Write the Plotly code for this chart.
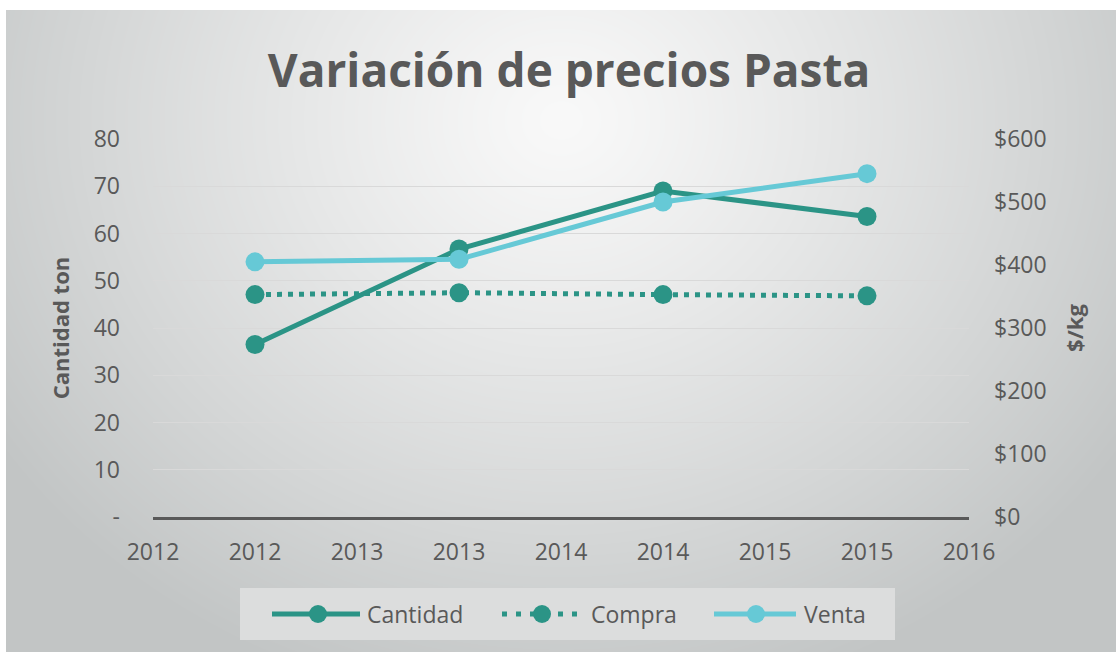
import base64
import struct
import zlib

import numpy as np
import plotly.graph_objects as go

# ---- data -------------------------------------------------------------
years = [2012, 2013, 2014, 2015]
cantidad_ton = [36.5, 56.7, 69.0, 63.6]          # left axis (ton)
compra_precio = [353, 356, 353, 351]             # right axis ($/kg)
venta_precio = [405, 409, 500, 545]              # right axis ($/kg)
x_ticks = [2012 + 0.5 * i for i in range(9)]
x_ticktext = [str(int(v)) for v in x_ticks]
y_ticks = list(range(0, 90, 10))
y_ticktext = ["-"] + [str(v) for v in y_ticks[1:]]
y2_ticks = list(range(0, 700, 100))
y2_ticktext = ["$" + str(v) for v in y2_ticks]

# ---- figure geometry (pixels) ----------------------------------------
W, H = 1116, 652
L, R, T, B = 153, 147, 139, 135
PW, PH = W - L - R, H - T - B

def px(xp):
    return (xp - L) / PW

def py(yp):
    return (H - B - yp) / PH

TEAL = "#2b9486"
CYAN = "#66c9d6"
GREY = "#595959"
FONT = "Open Sans"

# ---- radial gradient card background as inline PNG -------------------
def png_uri(arr):
    h, w, _ = arr.shape
    raw = b"".join(b"\x00" + arr[i].tobytes() for i in range(h))

    def chunk(tag, data):
        return (struct.pack(">I", len(data)) + tag + data
                + struct.pack(">I", zlib.crc32(tag + data) & 0xFFFFFFFF))

    png = (b"\x89PNG\r\n\x1a\n"
           + chunk(b"IHDR", struct.pack(">IIBBBBB", w, h, 8, 2, 0, 0, 0))
           + chunk(b"IDAT", zlib.compress(raw, 9))
           + chunk(b"IEND", b""))
    return "data:image/png;base64," + base64.b64encode(png).decode()

card_x0, card_y0 = 6, 10
cw, ch = W - card_x0, H - card_y0
gx, gy = np.meshgrid(np.arange(cw), np.arange(ch))
d = np.sqrt(((gx - 555) / 680.0) ** 2 + ((gy - 110) / 600.0) ** 2)
t = np.clip(d, 0, 1) ** 1.15
inner = np.array([249, 249, 249], dtype=float)
outer = np.array([194, 197, 197], dtype=float)
img = (inner[None, None, :] * (1 - t[..., None]) + outer[None, None, :] * t[..., None])
img = np.clip(img, 0, 255).astype(np.uint8)
bg_uri = png_uri(img)

# ---- traces -----------------------------------------------------------
xs = [y + 0.5 for y in years]   # each year's value sits mid-year

fig = go.Figure()
fig.add_trace(go.Scatter(
    x=xs, y=cantidad_ton, name="Cantidad", mode="lines+markers",
    line=dict(color=TEAL, width=5), marker=dict(color=TEAL, size=19),
    yaxis="y", showlegend=False,
))
fig.add_trace(go.Scatter(
    x=xs, y=compra_precio, name="Compra", mode="lines+markers",
    line=dict(color=TEAL, width=5, dash="5px,6px"),
    marker=dict(color=TEAL, size=19),
    yaxis="y2", showlegend=False,
))
fig.add_trace(go.Scatter(
    x=xs, y=venta_precio, name="Venta", mode="lines+markers",
    line=dict(color=CYAN, width=5), marker=dict(color=CYAN, size=19),
    yaxis="y2", showlegend=False,
))

# ---- hand-drawn legend box ------------------------------------------
shapes = [
    dict(type="rect", xref="paper", yref="paper",
         x0=px(240), x1=px(895), y0=py(640), y1=py(588),
         fillcolor="#dcdddd", line=dict(width=0), layer="below"),
]
annotations = []
legend_y = 614
legend_items = [
    ("Cantidad", TEAL, "solid", 272, 360, 318, 365),
    ("Compra", TEAL, "dots", 502, 578, 542, 589),
    ("Venta", CYAN, "solid", 714, 796, 756, 802),
]
for label, color, style, lx0, lx1, mx, tx in legend_items:
    dash = "solid" if style == "solid" else "5px,9px"
    shapes.append(dict(type="line", xref="paper", yref="paper",
                       x0=px(lx0), x1=px(lx1), y0=py(legend_y), y1=py(legend_y),
                       line=dict(color=color, width=5, dash=dash)))
    shapes.append(dict(type="circle", xref="paper", yref="paper",
                       xsizemode="pixel", ysizemode="pixel",
                       xanchor=px(mx), yanchor=py(legend_y),
                       x0=-9, x1=9, y0=-9, y1=9,
                       fillcolor=color, line=dict(width=0)))
    annotations.append(dict(text=label, xref="paper", yref="paper",
                            x=px(tx), y=py(legend_y), xanchor="left", yanchor="middle",
                            showarrow=False,
                            font=dict(family=FONT, size=23, color=GREY)))

fig.update_layout(
    width=W, height=H,
    margin=dict(l=L, r=R, t=T, b=B, autoexpand=False),
    paper_bgcolor="white",
    plot_bgcolor="rgba(0,0,0,0)",
    showlegend=False,
    title=dict(text="<b>Variación de precios Pasta</b>",
               x=569 / W, xref="container", xanchor="center",
               y=1 - 71 / H, yref="container", yanchor="middle",
               font=dict(family=FONT, size=46, color=GREY)),
    images=[dict(source=bg_uri, xref="paper", yref="paper",
                 x=px(card_x0), y=py(card_y0),
                 sizex=cw / PW, sizey=ch / PH,
                 xanchor="left", yanchor="top", sizing="stretch",
                 layer="below")],
    xaxis=dict(range=[2012, 2016], tickvals=x_ticks, ticktext=x_ticktext,
               showgrid=False, zeroline=False,
               showline=True, linecolor=GREY, linewidth=3,
               ticks="", ticklabelstandoff=12,
               tickfont=dict(family=FONT, size=23, color=GREY)),
    yaxis=dict(range=[0, 80], tickvals=y_ticks, ticktext=y_ticktext,
               showgrid=True, gridcolor="#d9d9d9", gridwidth=1,
               zeroline=False, showline=False, ticks="",
               ticklabelstandoff=32,
               tickfont=dict(family=FONT, size=23, color=GREY),
               title=dict(text="<b>Cantidad ton</b>", standoff=17,
                          font=dict(family=FONT, size=22, color=GREY))),
    yaxis2=dict(range=[0, 600], tickvals=y2_ticks, ticktext=y2_ticktext,
                overlaying="y", side="right",
                showgrid=False, zeroline=False, showline=False, ticks="",
                ticklabelstandoff=24,
                tickfont=dict(family=FONT, size=23, color=GREY),
                title=dict(text="<b>$/kg</b>", standoff=21,
                           font=dict(family=FONT, size=22, color=GREY))),
    shapes=shapes,
    annotations=annotations,
)

fig.write_html("out.html")
